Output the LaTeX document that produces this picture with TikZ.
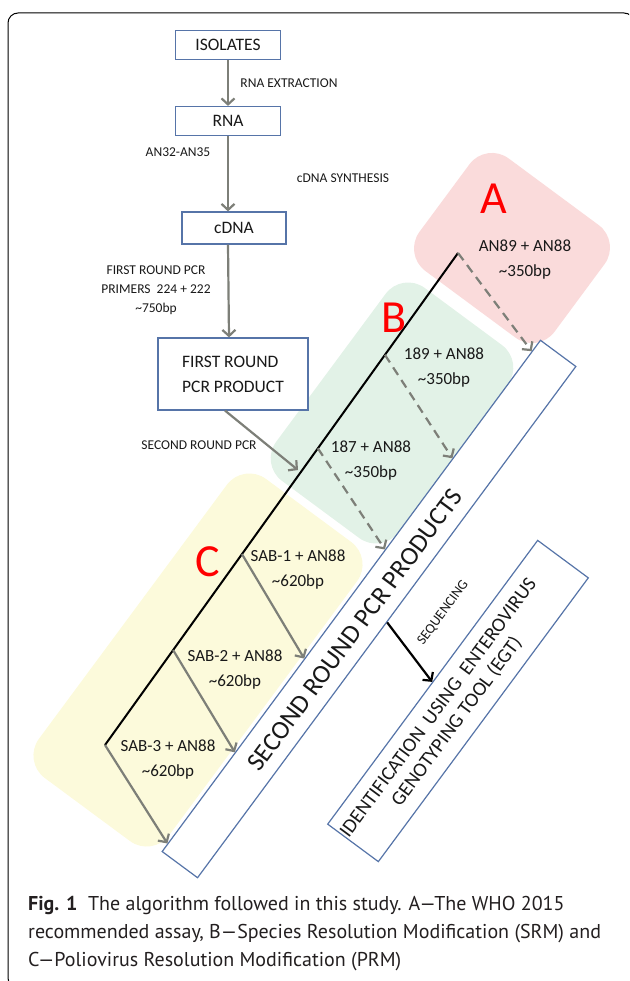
\documentclass[tikz,border=0pt]{standalone}
\usepackage{fontspec}
\setmainfont{Carlito}
\newfontfamily\captionfont{PT Sans}
\usetikzlibrary{arrows.meta,calc,positioning}
\definecolor{boxblue}{RGB}{86,116,168}
\definecolor{arrowgray}{RGB}{125,127,120}
\definecolor{regionA}{RGB}{250,219,219}
\definecolor{regionB}{RGB}{226,242,231}
\definecolor{regionC}{RGB}{252,250,219}
\definecolor{textgray}{RGB}{25,25,25}
\definecolor{captiongray}{RGB}{35,31,32}
\tikzset{
	flowbox/.style = {draw=boxblue, line width=1.2pt, fill=white, inner sep=0pt, text=textgray, font=\fontsize{17.5}{19}\selectfont},
	steplabel/.style = {inner sep=0pt, align=center, text=textgray, font=\fontsize{13.5}{19}\selectfont},
	primerlabel/.style = {inner sep=0pt, align=center, text=textgray, font=\fontsize{17}{25}\selectfont},
	flowarrow/.style = {draw=arrowgray, line width=2.2pt, -{Straight Barb[length=6pt,width=13pt]}},
	branch/.style = {draw=arrowgray, line width=2.2pt, -{Straight Barb[length=6pt,width=13pt]}},
	dashbranch/.style = {branch, dash pattern=on 9pt off 6pt},
	region/.style = {rounded corners=28pt, rotate=53.5, inner sep=0pt},
	tiltbox/.style = {draw=boxblue, line width=1.2pt, fill=white, rotate=53.5, inner sep=0pt},
	letter/.style = {text=red, inner sep=0pt, font=\fontsize{46}{46}\selectfont}
}

\begin{document}
\begin{tikzpicture}[x=1pt, y=-1pt]
	\clip (0,0) rectangle (629,981);
	\useasboundingbox (0,0) rectangle (629,981);
	\draw[line width=1pt, rounded corners=10pt] (8,13) rectangle (634,988);

	% shaded groups A, B, C
	\node[region, fill=regionC, minimum width=372, minimum height=162] (groupC) at (198,660) {};
	\node[region, fill=regionB, minimum width=240, minimum height=152] (groupB) at (392,413) {};
	\node[region, fill=regionA, minimum width=140, minimum height=168] (groupA) at (512,248) {};

	% first part of the flow
	\node[flowbox, minimum width=105, minimum height=29] (isolates) at (228,45) {ISOLATES};
	\node[flowbox, minimum width=105, minimum height=29] (rna) at (228,121) {RNA};
	\node[flowbox, minimum width=104, minimum height=32] (cdna) at (234,228) {cDNA};
	\node[flowbox, minimum width=150, minimum height=72, align=left, font=\fontsize{17.5}{25}\selectfont] (firstpcr) at (233,374) {FIRST ROUND\\PCR PRODUCT};

	\draw[flowarrow] (isolates) -- (rna);
	\draw[flowarrow] (rna.south) -- (rna.south |- cdna.north);
	\draw[flowarrow] ([xshift=-6]cdna.south) -- ([xshift=-4]firstpcr.north);
	\coordinate (entry) at (298,470);
	\draw[flowarrow] ([xshift=-8]firstpcr.south) -- (entry);

	\node[steplabel] (extraction) at (289,83) {RNA EXTRACTION};
	\node[steplabel] (rtprimers) at (178,152) {AN32-AN35};
	\node[steplabel] (synthesis) at (343,178) {cDNA SYNTHESIS};
	\node[steplabel] (firstround) at (156,290) {FIRST ROUND PCR\\PRIMERS\ \ 224 + 222\\\textasciitilde 750bp};
	\node[steplabel] (secondround) at (199,445) {SECOND ROUND PCR};

	% tilted boxes
	\node[tiltbox, minimum width=636, minimum height=44] (products) at (369,609) {};
	\node[rotate=53.5, inner sep=0pt, text=textgray, font=\fontsize{26}{26}\selectfont] (productstext) at (355,630) {SECOND ROUND PCR PRODUCTS};
	\node[tiltbox, minimum width=353, minimum height=63] (egt) at (458,701) {};
	\node[rotate=53.5, inner sep=0pt, align=center, text=textgray, font=\fontsize{20}{23}\selectfont] (egttext) at (448,715) {IDENTIFICATION\ \ USING\ \ ENTEROVIRUS\\GENOTYPING TOOL (EGT)};
	\draw[line width=2.2pt, -{Straight Barb[length=6pt,width=13pt]}] (products.south) -- (egt.north);
	\node[rotate=53.5, inner sep=0pt, text=textgray, font=\fontsize{14}{14}\selectfont] (sequencing) at (443,613) {SEQUENCING};

	% primer line with its products
	\coordinate (bottom) at (105,745);
	\coordinate (top) at (458,253);
	\draw[line width=2pt] (bottom) -- (top);
	\foreach \s/\e/\kind in {1/0.977/dashbranch, 0.793/0.768/dashbranch, 0.603/0.59/dashbranch, 0.388/0.377/branch, 0.193/0.194/branch, 0/0.016/branch}
		\draw[\kind] ($(bottom)!\s!(top)$) -- ($(products.north west)!\e!(products.north east)$);

	\node[primerlabel] (pairA) at (525,260) {AN89 + AN88\\\textasciitilde 350bp};
	\node[primerlabel] (pair189) at (444,368) {189 + AN88\\\textasciitilde 350bp};
	\node[primerlabel] (pair187) at (371,461) {187 + AN88\\\textasciitilde 350bp};
	\node[primerlabel] (sab1) at (298,570) {SAB-1 + AN88\\\textasciitilde 620bp};
	\node[primerlabel] (sab2) at (235,670) {SAB-2 + AN88\\\textasciitilde 620bp};
	\node[primerlabel] (sab3) at (168,760) {SAB-3 + AN88\\\textasciitilde 620bp};

	\node[letter] (letterA) at (494,199) {A};
	\node[letter] (letterB) at (394,318) {B};
	\node[letter] (letterC) at (208,562) {C};

	% caption
	\node[anchor=north west, align=left, inner sep=0pt, text=captiongray, font=\captionfont\fontsize{20}{28}\selectfont] (caption) at (28,896) {\textbf{Fig. 1}\ \ The algorithm followed in this study. A—The WHO 2015\\recommended assay, B—Species Resolution Modification (SRM) and\\C—Poliovirus Resolution Modification (PRM)};
\end{tikzpicture}
\end{document}
